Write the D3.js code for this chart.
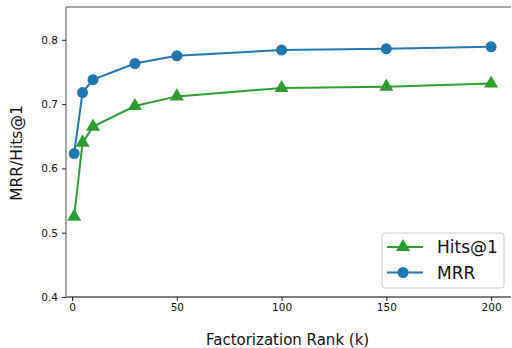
<!DOCTYPE html>
<html>
<head>
<style>
  body { margin: 0; background: white; font-family: "DejaVu Sans", sans-serif; }
</style>
</head>
<body>
<div id="chart"></div>
<script src="https://d3js.org/d3.v7.min.js"></script>
<script>
  var ranks = [1, 5, 10, 30, 50, 100, 150, 200];
  var mrr = [0.623, 0.718, 0.738, 0.763, 0.775, 0.784, 0.786, 0.789];
  var hits1 = [0.525, 0.640, 0.665, 0.697, 0.712, 0.725, 0.727, 0.732];
  var xTicks = [0, 50, 100, 150, 200];
  var yTicks = [0.4, 0.5, 0.6, 0.7, 0.8];

  var W = 512, H = 348;
  var margin = {top: 7, right: 1, bottom: 51, left: 66};
  var width = W - margin.left - margin.right,
      height = H - margin.top - margin.bottom;

  var svg = d3.select("#chart").append("svg")
    .attr("width", W).attr("height", H)
    .append("g")
    .attr("transform", "translate(" + margin.left + "," + margin.top + ")");

  var x = d3.scaleLinear().domain([-2.9, 209.5]).range([0, width]);
  var y = d3.scaleLinear().domain([0.4, 0.851]).range([height, 0]);

  // axes
  var xAxis = svg.append("g")
    .attr("transform", "translate(0," + height + ")")
    .call(d3.axisBottom(x).tickValues(xTicks).tickSize(4).tickPadding(3).tickFormat(d3.format("d")));
  xAxis.select(".domain").attr("stroke", "#000").attr("stroke-width", 1.2)
    .attr("d", "M0,0H" + width);

  var yAxis = svg.append("g")
    .call(d3.axisLeft(y).tickValues(yTicks).tickSize(4).tickPadding(4).tickFormat(d3.format(".1f")));
  yAxis.select(".domain").attr("stroke", "#888").attr("stroke-width", 1.5)
    .attr("d", "M0," + height + "V0");

  svg.selectAll(".tick text").attr("font-size", 10.5).attr("fill", "#111")
    .attr("font-family", "DejaVu Sans, sans-serif");
  svg.selectAll(".tick line").attr("stroke", "#222");

  // top spine
  svg.append("line")
    .attr("x1", 0).attr("x2", width).attr("y1", 0).attr("y2", 0)
    .attr("stroke", "#888").attr("stroke-width", 1.5);

  var line = d3.line().x(function(d, i) { return x(ranks[i]); }).y(function(d) { return y(d); });

  var series = [
    {name: "Hits@1", values: hits1, color: "#2ca02c", shape: d3.symbolTriangle},
    {name: "MRR", values: mrr, color: "#1f77b4", shape: d3.symbolCircle}
  ];

  series.forEach(function(s) {
    svg.append("path").datum(s.values)
      .attr("fill", "none").attr("stroke", s.color).attr("stroke-width", 2)
      .attr("d", line);
    svg.selectAll(".pt-" + s.name.replace("@", ""))
      .data(s.values).enter().append("path")
      .attr("transform", function(d, i) { return "translate(" + x(ranks[i]) + "," + y(d) + ")"; })
      .attr("d", d3.symbol().type(s.shape).size(s.shape === d3.symbolCircle ? 95 : 85))
      .attr("fill", s.color);
  });

  // axis labels
  svg.append("text")
    .attr("x", x(100) + 6).attr("y", height + 48)
    .attr("text-anchor", "middle").attr("font-size", 15).attr("fill", "#111")
    .text("Factorization Rank (k)");
  svg.append("text")
    .attr("transform", "translate(" + (-44) + "," + (height / 2 + 1) + ") rotate(-90)")
    .attr("text-anchor", "middle").attr("font-size", 15.5).attr("fill", "#111")
    .text("MRR/Hits@1");

  // legend
  var lg = svg.append("g").attr("transform", "translate(" + (382 - margin.left) + "," + (233 - margin.top) + ")");
  lg.append("rect").attr("width", 122).attr("height", 55).attr("rx", 3)
    .attr("fill", "white").attr("fill-opacity", 0.8).attr("stroke", "#ccc");
  series.forEach(function(s, i) {
    var yy = 14 + i * 25.5;
    lg.append("line").attr("x1", 5).attr("x2", 41).attr("y1", yy).attr("y2", yy)
      .attr("stroke", s.color).attr("stroke-width", 2);
    lg.append("path").attr("transform", "translate(21," + yy + ")")
      .attr("d", d3.symbol().type(s.shape).size(s.shape === d3.symbolCircle ? 95 : 85))
      .attr("fill", s.color);
    lg.append("text").attr("x", 55).attr("y", yy + 6)
      .attr("font-size", 17).attr("fill", "#111").text(s.name);
  });
</script>
</body>
</html>
